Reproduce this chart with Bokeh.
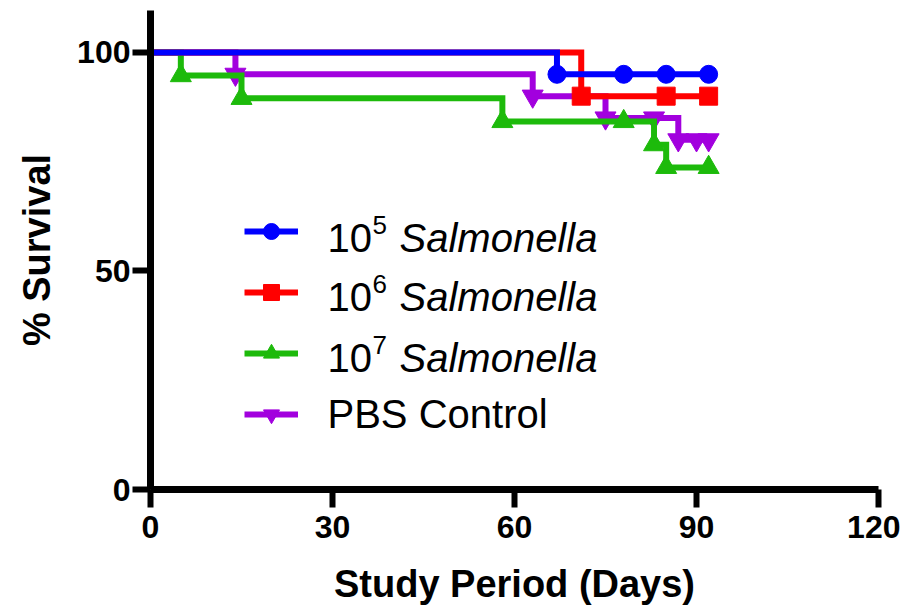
from bokeh.plotting import figure
from bokeh.models import Range1d, FixedTicker, Legend, LegendItem, Label
from bokeh.core.properties import value
from bokeh.embed import file_html
from bokeh.resources import INLINE

# ---------------- data (Kaplan-Meier steps) ----------------
x_ticks = [0, 30, 60, 90, 120]
y_ticks = [0, 50, 100]

blue_days = [0, 67, 92]
blue_surv = [100, 95, 95]
blue_mk_days = [67, 78, 85, 92]
blue_mk_surv = [95, 95, 95, 95]

red_days = [0, 71, 92]
red_surv = [100, 90, 90]
red_mk_days = [71, 85, 92]
red_mk_surv = [90, 90, 90]

green_days = [0, 5, 15, 58, 83, 85, 92]
green_surv = [100, 94.7, 89.5, 84.2, 78.9, 73.7, 73.7]
green_mk_days = [5, 15, 58, 78, 83, 85, 92]
green_mk_surv = [94.7, 89.5, 84.2, 84.2, 78.9, 73.7, 73.7]

purple_days = [0, 14, 63, 75, 87, 92]
purple_surv = [100, 95, 90, 85, 80, 80]
purple_mk_days = [14, 63, 75, 83, 87, 90, 92]
purple_mk_surv = [95, 90, 85, 85, 80, 80, 80]

BLUE = "#0000FF"
RED = "#FF0000"
GREEN = "#1DBA0B"
PURPLE = "#A200DE"
FONT = "Liberation Sans"

p = figure(width=900, height=607, output_backend="svg", toolbar_location=None,
           x_range=Range1d(0, 120), y_range=Range1d(0, 109.6),
           min_border_left=150, min_border_right=22, min_border_top=10,
           min_border_bottom=117)
p.outline_line_color = None
p.grid.visible = False
p.background_fill_color = "white"

lw = 6
# draw order: purple back, blue front
r_pl = p.step(purple_days, purple_surv, mode="after", line_width=lw, color=PURPLE, line_join="miter")
r_pm = p.scatter(purple_mk_days, purple_mk_surv, marker="inverted_triangle", size=21, color=PURPLE)
r_gl = p.step(green_days, green_surv, mode="after", line_width=lw, color=GREEN, line_join="miter")
r_gm = p.scatter(green_mk_days, green_mk_surv, marker="triangle", size=21, color=GREEN)
r_rl = p.step(red_days, red_surv, mode="after", line_width=lw, color=RED, line_join="miter")
r_rm = p.scatter(red_mk_days, red_mk_surv, marker="square", size=18, color=RED)
r_bl = p.step(blue_days, blue_surv, mode="after", line_width=lw, color=BLUE, line_join="miter")
r_bm = p.scatter(blue_mk_days, blue_mk_surv, marker="circle", size=18, color=BLUE)

# axes
for ax in (p.xaxis[0], p.yaxis[0]):
    ax.axis_line_width = 7
    ax.axis_line_color = "black"
    ax.major_tick_line_width = 6
    ax.major_tick_line_color = "black"
    ax.major_tick_in = 0
    ax.major_tick_out = 18
    ax.minor_tick_line_color = None
    ax.major_label_text_font = FONT
    ax.major_label_text_font_style = "bold"
    ax.major_label_text_font_size = "32px"
    ax.major_label_text_color = "black"
    ax.axis_label_text_font = FONT
    ax.axis_label_text_font_style = "bold"
    ax.axis_label_text_font_size = "38px"
    ax.axis_label_text_color = "black"

p.xaxis.ticker = FixedTicker(ticks=x_ticks)
p.yaxis.ticker = FixedTicker(ticks=y_ticks)
p.xaxis.major_label_standoff = 8
p.yaxis.major_label_standoff = 2
p.xaxis.axis_label = "Study Period (Days)"
p.yaxis.axis_label = "% Survival"
p.xaxis.axis_label_standoff = 22
p.yaxis.axis_label_standoff = 16

# legend icons
items = [
    LegendItem(label=value(" "), renderers=[r_bl, r_bm]),
    LegendItem(label=value(" "), renderers=[r_rl, r_rm]),
    LegendItem(label=value(" "), renderers=[r_gl, r_gm]),
    LegendItem(label=value(" "), renderers=[r_pl, r_pm]),
]
leg = Legend(items=items, location=(94, 55), glyph_width=54, glyph_height=40,
             spacing=21, padding=0, margin=0, border_line_color=None,
             background_fill_alpha=0, label_text_font_size="1px",
             label_standoff=0, label_width=1, label_height=1)
p.add_layout(leg, "center")

# legend texts
names = ["5", "6", "7"]
baselines = [252, 193, 132]
for sup, yb in zip(names, baselines):
    p.add_layout(Label(x=177, y=yb, x_units="screen", y_units="screen", text="10",
                       text_font=FONT, text_font_size="40px", text_color="black",
                       text_baseline="alphabetic"))
    p.add_layout(Label(x=222, y=yb + 13, x_units="screen", y_units="screen", text=sup,
                       text_font=FONT, text_font_size="26px", text_color="black",
                       text_baseline="alphabetic"))
    p.add_layout(Label(x=249, y=yb, x_units="screen", y_units="screen", text="Salmonella",
                       text_font=FONT, text_font_size="40px", text_font_style="italic",
                       text_color="black", text_baseline="alphabetic"))
p.add_layout(Label(x=177, y=76, x_units="screen", y_units="screen", text="PBS Control",
                   text_font=FONT, text_font_size="40px", text_color="black",
                   text_baseline="alphabetic"))

open("out.html", "w").write(file_html(p, INLINE))
